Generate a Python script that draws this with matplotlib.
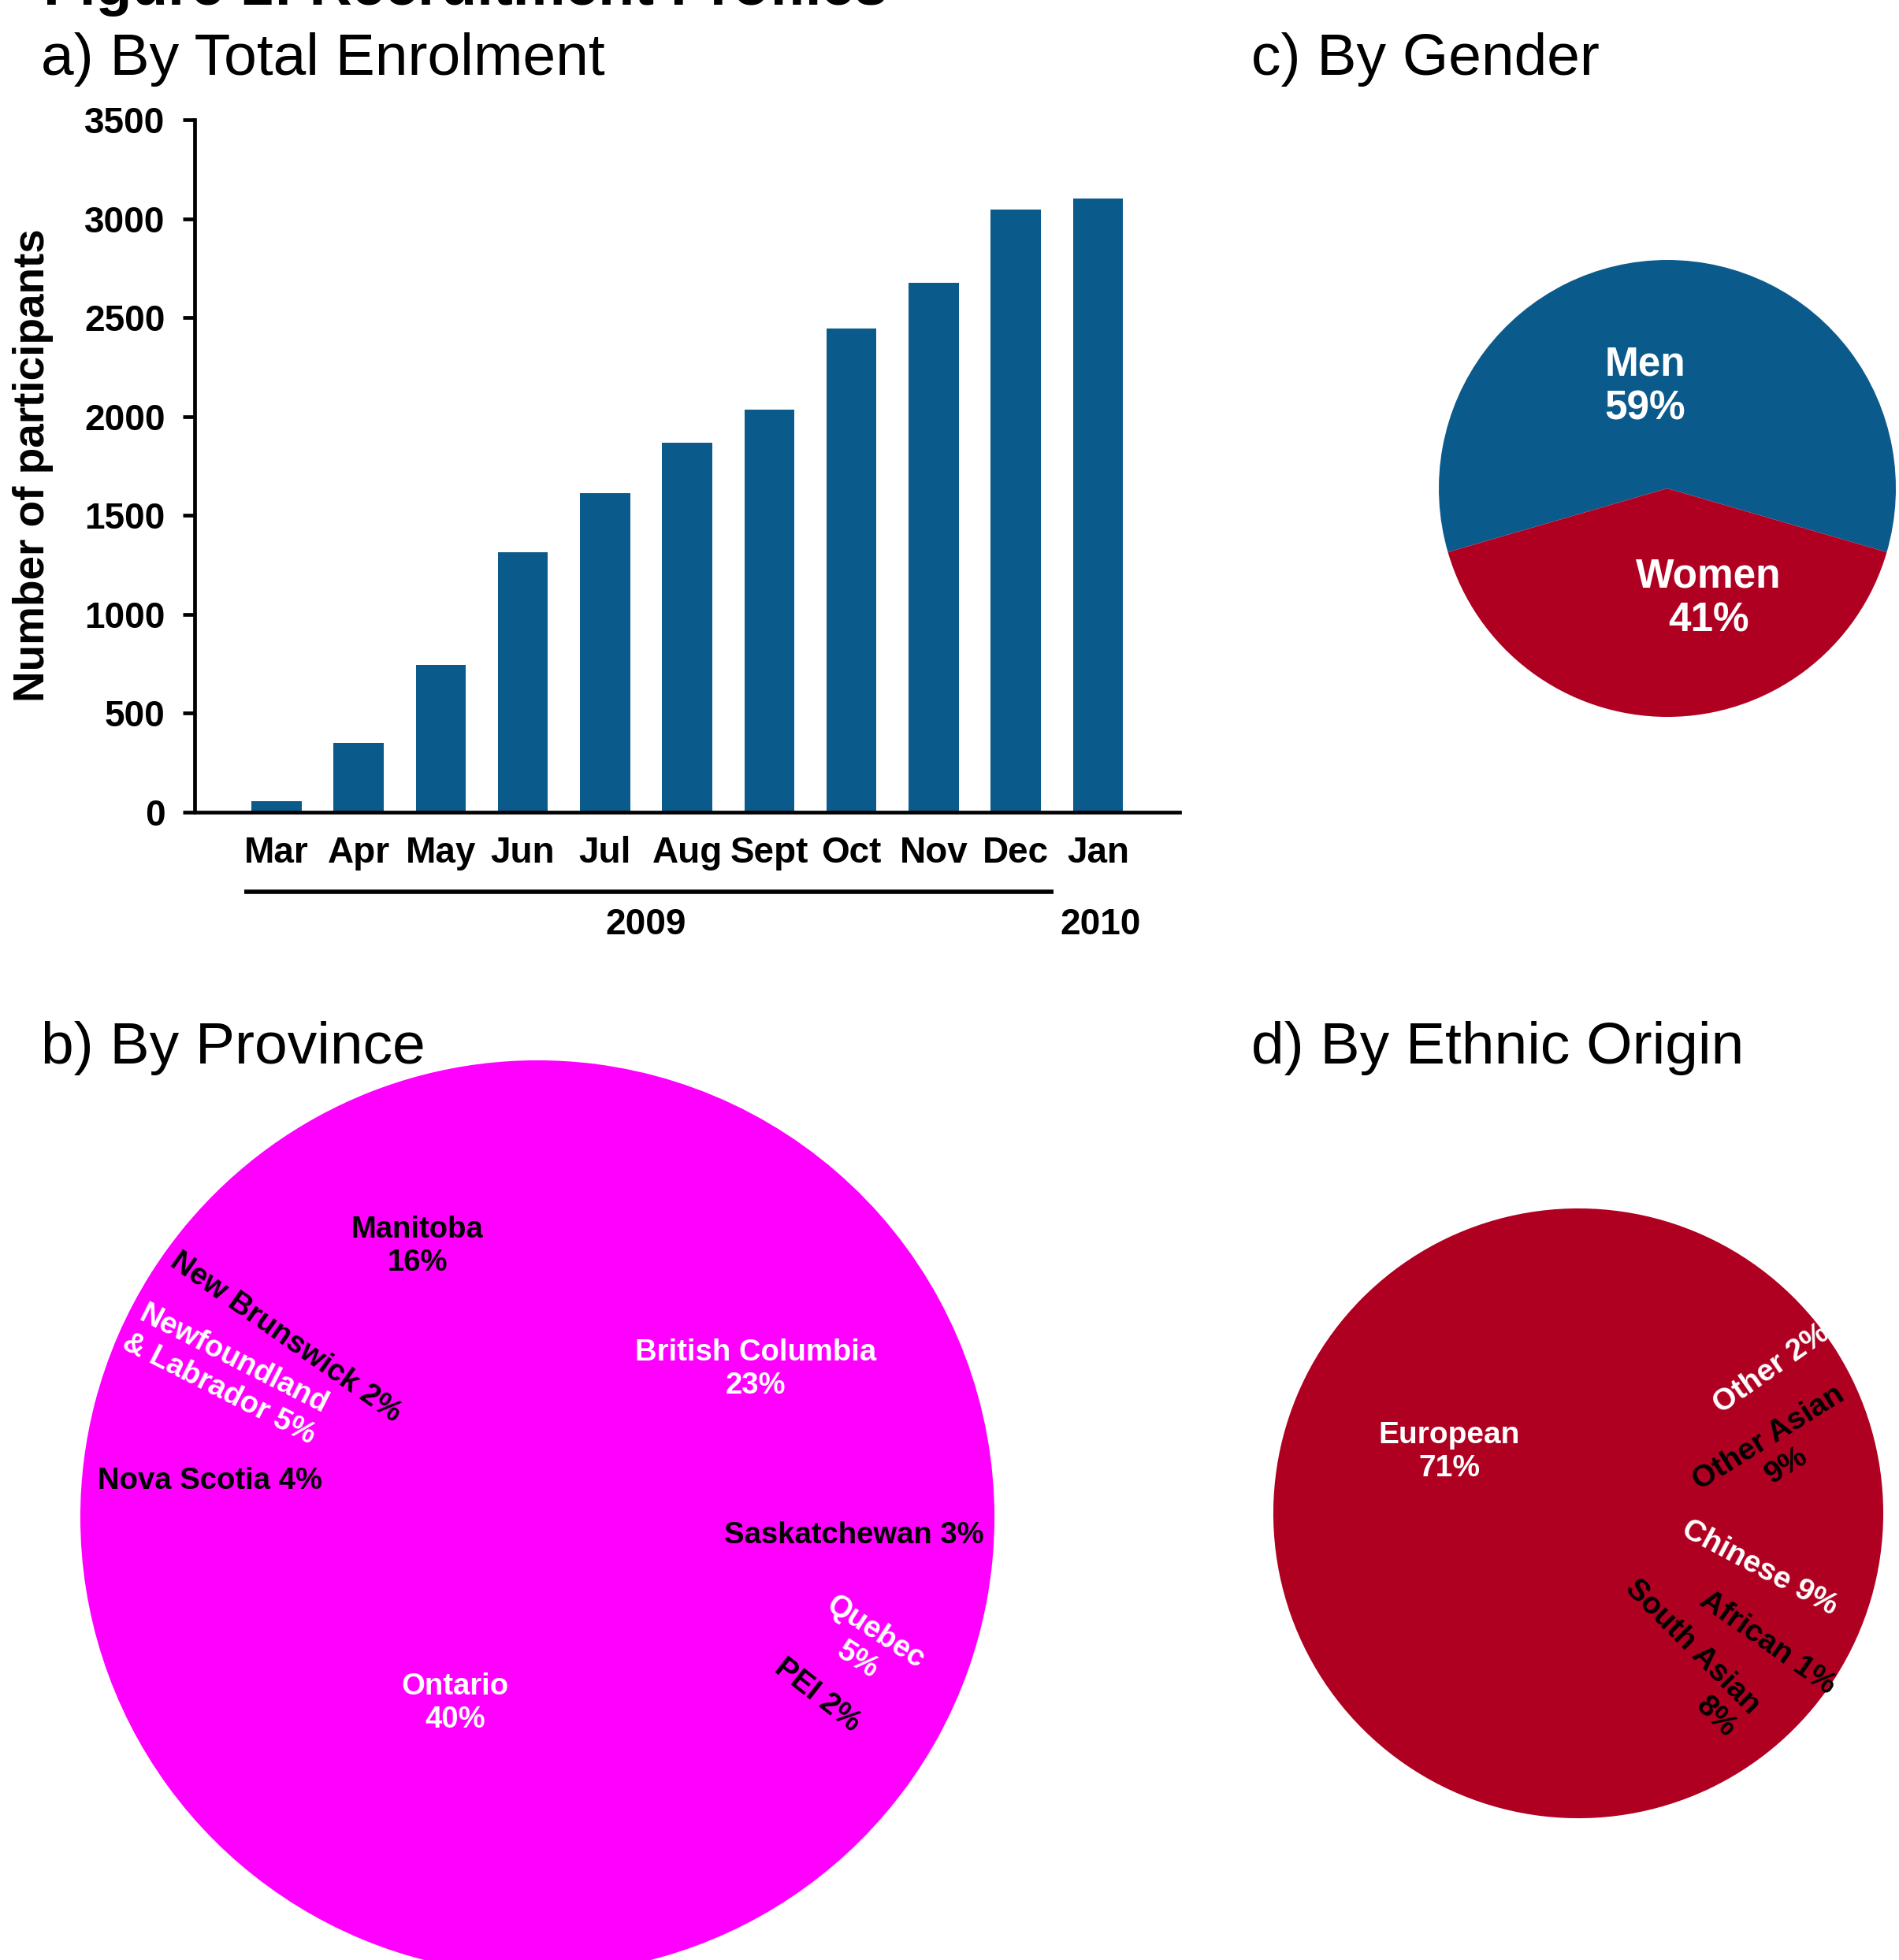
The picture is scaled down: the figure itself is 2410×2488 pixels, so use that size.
import matplotlib
matplotlib.use("Agg")
import matplotlib.pyplot as plt
import matplotlib.transforms as mtransforms

plt.rcParams["font.family"] = ["Liberation Sans", "DejaVu Sans"]

# ---- data -------------------------------------------------------------
months = ["Mar", "Apr", "May", "Jun", "Jul", "Aug", "Sept", "Oct", "Nov", "Dec", "Jan"]
enrolment = [55, 350, 745, 1315, 1610, 1865, 2035, 2445, 2675, 3045, 3100]
y_ticks = [0, 500, 1000, 1500, 2000, 2500, 3000, 3500]
years = ["2009", "2010"]

gender_names = ["Men", "Women"]
gender_pct = [59, 41]

province_names = ["British Columbia", "Manitoba", "New Brunswick",
                  "Newfoundland\n& Labrador", "Nova Scotia", "Ontario",
                  "PEI", "Quebec", "Saskatchewan"]
province_pct = [23, 16, 2, 5, 4, 40, 2, 5, 3]

ethnic_names = ["European", "Other", "Other Asian", "Chinese", "African", "South Asian"]
ethnic_pct = [71, 2, 9, 9, 1, 8]

# ---- styling ------------------------------------------------------------
BLUE = "#0B5A8C"
RED = "#B00022"
MAGENTA = "#FF00FF"

W, H = 2410, 2488
DPI = 100
fig = plt.figure(figsize=(W / DPI, H / DPI), dpi=DPI)


def px_axes(left, top, width, height):
    """Axes placed in pixel units measured from the top-left corner."""
    return fig.add_axes([left / W, 1 - (top + height) / H, width / W, height / H])


def pie_axes(cx, cy, r):
    return px_axes(cx - r, cy - r, 2 * r, 2 * r)


def finish_pie(ax):
    ax.set_xlim(-1, 1)
    ax.set_ylim(-1, 1)
    ax.set_axis_off()


def label_pie(ax, texts, layout, colors, size):
    for txt, (x, y, rot, malign), col in zip(texts, layout, colors):
        ax.text(x, y, txt, ha="center", va="center", rotation=rot,
                rotation_mode="anchor", multialignment=malign,
                color=col, fontsize=size, fontweight="bold", zorder=5)


# ---- headings -----------------------------------------------------------
TITLE_SIZE = 54
fig.text(55 / W, 1 - 6 / H, "Figure 1: Recruitment Profiles", fontsize=TITLE_SIZE,
         fontweight="bold", ha="left", va="baseline")
fig.text(52 / W, 1 - 95 / H, "a) By Total Enrolment", fontsize=TITLE_SIZE,
         ha="left", va="baseline")
fig.text(1588 / W, 1 - 95 / H, "c) By Gender", fontsize=TITLE_SIZE,
         ha="left", va="baseline")
fig.text(52 / W, 1 - 1350 / H, "b) By Province", fontsize=TITLE_SIZE,
         ha="left", va="baseline")
fig.text(1588 / W, 1 - 1350 / H, "d) By Ethnic Origin", fontsize=TITLE_SIZE,
         ha="left", va="baseline")

# ---- a) enrolment bars --------------------------------------------------
ax = px_axes(246.6, 152.0, 1250.0, 878.7)
x = list(range(len(months)))
ax.bar(x, enrolment, width=0.61, color=BLUE, zorder=2)
ax.set_xlim(-1, 10.99)
ax.set_ylim(0, 3500)
ax.set_yticks(y_ticks)
ax.set_yticklabels([str(v) for v in y_ticks], fontsize=33, fontweight="bold")
ax.set_xticks(x)
ax.set_xticklabels(months, fontsize=33, fontweight="bold")
for side in ("top", "right"):
    ax.spines[side].set_visible(False)
for side in ("left", "bottom"):
    ax.spines[side].set_linewidth(3.4)
ax.tick_params(axis="y", length=10.8, width=3.4, pad=16)
ax.tick_params(axis="x", length=0, pad=22)

fig.text(42 / W, 1 - 591 / H, "Number of participants", rotation=90,
         fontsize=39.5, fontweight="bold", ha="center", va="center")

trans = mtransforms.blended_transform_factory(ax.transData, ax.transAxes)
ax.plot([-0.396, 9.46], [-0.1152, -0.1152], color="black", lw=4,
        transform=trans, clip_on=False, solid_capstyle="butt")
ax.text(4.5, -0.1770, years[0], transform=trans, ha="center", va="baseline",
        fontsize=33, fontweight="bold")
ax.text(10.03, -0.1770, years[1], transform=trans, ha="center", va="baseline",
        fontsize=33, fontweight="bold")

# ---- c) gender pie ------------------------------------------------------
axg = pie_axes(2116, 620, 290)
axg.pie(gender_pct, colors=[BLUE, RED], startangle=90 - gender_pct[0] * 3.6 / 2,
        counterclock=True, radius=1,
        wedgeprops=dict(linewidth=0))
finish_pie(axg)
label_pie(axg,
          [f"{n}\n{v}%" for n, v in zip(gender_names, gender_pct)],
          [(-0.098, 0.445, 0, "center"), (0.181, -0.483, 0, "center")],
          ["white", "white"], 37)

# ---- b) province pie ----------------------------------------------------
axp = pie_axes(682, 1926, 579)
axp.pie(province_pct, colors=[MAGENTA] * len(province_pct), startangle=0,
        counterclock=True, radius=1,
        wedgeprops=dict(linewidth=1.5, edgecolor=MAGENTA))
finish_pie(axp)
province_sep = ["\n", "\n", " ", " ", " ", "\n", " ", "\n", " "]
province_layout = [
    (0.478, 0.325, 0, "center"),
    (-0.263, 0.594, 0, "center"),
    (-0.551, 0.394, -35, "center"),
    (-0.682, 0.313, -27, "center"),
    (-0.717, 0.079, 0, "center"),
    (-0.181, -0.408, 0, "center"),
    (0.613, -0.390, -38, "center"),
    (0.722, -0.283, -33, "center"),
    (0.694, -0.040, 0, "center"),
]
province_colors = ["white", "black", "black", "white", "black",
                   "white", "black", "white", "black"]
label_pie(axp,
          [f"{n}{s}{v}%" for n, s, v in zip(province_names, province_sep, province_pct)],
          province_layout, province_colors, 27.5)

# ---- d) ethnic origin pie -----------------------------------------------
axe = pie_axes(2003, 1921, 386)
axe.pie(ethnic_pct, colors=[RED] * len(ethnic_pct), startangle=295.2,
        counterclock=False, radius=1,
        wedgeprops=dict(linewidth=1.5, edgecolor=RED))
finish_pie(axe)
ethnic_sep = ["\n", " ", "\n", " ", " ", "\n"]
ethnic_layout = [
    (-0.425, 0.202, 0, "center"),
    (0.634, 0.474, 35, "center"),
    (0.655, 0.201, 32, "center"),
    (0.595, -0.180, -28, "center"),
    (0.622, -0.427, -35, "center"),
    (0.337, -0.477, -45, "right"),
]
ethnic_colors = ["white", "white", "black", "white", "black", "black"]
label_pie(axe,
          [f"{n}{s}{v}%" for n, s, v in zip(ethnic_names, ethnic_sep, ethnic_pct)],
          ethnic_layout, ethnic_colors, 28)

fig.savefig("out.png", dpi=DPI)
